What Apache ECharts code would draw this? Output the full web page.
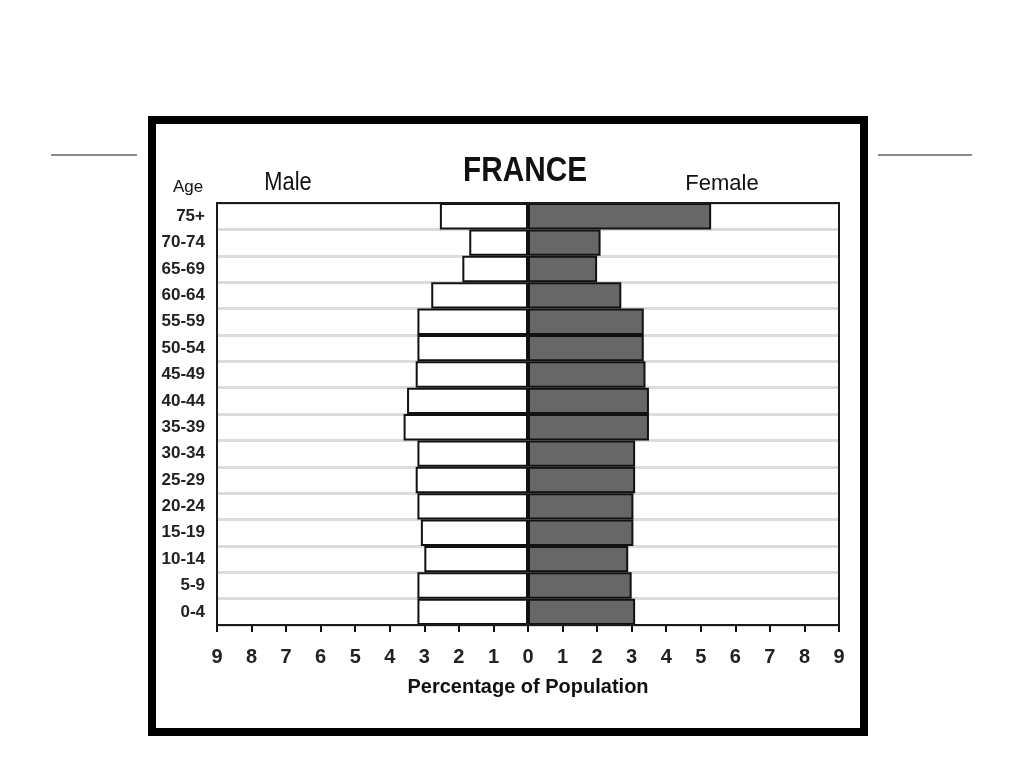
<!DOCTYPE html>
<html>
<head>
<meta charset="utf-8">
<script src="https://cdn.jsdelivr.net/npm/echarts@6/dist/echarts.min.js"></script>
<style>html,body{margin:0;padding:0;background:#fff;}#chart{width:1024px;height:768px;}</style>
</head>
<body>
<div id="chart"></div>
<script>
// Age groups, top to bottom
var ageGroups = ['75+','70-74','65-69','60-64','55-59','50-54','45-49','40-44','35-39','30-34','25-29','20-24','15-19','10-14','5-9','0-4'];
// Percentage of population
var maleValues   = [2.55, 1.7, 1.9, 2.8, 3.2, 3.2, 3.25, 3.5, 3.6, 3.2, 3.25, 3.2, 3.1, 3.0, 3.2, 3.2];
var femaleValues = [5.3, 2.1, 2.0, 2.7, 3.35, 3.35, 3.4, 3.5, 3.5, 3.1, 3.1, 3.05, 3.05, 2.9, 3.0, 3.1];

var SANS = "'Liberation Sans',Arial,sans-serif";

var chart = echarts.init(document.getElementById('chart'), null, {renderer:'canvas'});
chart.setOption({
  animation: false,
  backgroundColor: '#fff',
  grid: {left: 217, right: 185, top: 203, bottom: 143, show: true, borderColor: '#222', borderWidth: 2, backgroundColor: '#fff'},
  xAxis: {
    type: 'value', min: -9, max: 9, interval: 1,
    axisLine: {show: true, onZero: false, lineStyle: {color: '#111', width: 2}},
    axisTick: {show: true, length: 7, lineStyle: {color: '#111', width: 2}},
    splitLine: {show: false},
    axisLabel: {margin: 22, color: '#222', fontFamily: SANS, fontWeight: 'bold', fontSize: 20,
      formatter: function (v) { return String(Math.abs(v)); }},
    name: 'Percentage of Population', nameLocation: 'middle', nameGap: 52,
    nameTextStyle: {color: '#111', fontFamily: SANS, fontWeight: 'bold', fontSize: 20}
  },
  yAxis: {
    type: 'category', data: ageGroups, inverse: true,
    axisLine: {show: false}, axisTick: {show: false},
    splitLine: {show: true, interval: 0, lineStyle: {color: '#dcdcdc', width: 3}},
    axisLabel: {margin: 12, color: '#222', fontFamily: SANS, fontWeight: 'bold', fontSize: 17}
  },
  series: [
    {name: 'Male', type: 'bar', stack: 'pop', barWidth: '100%',
     data: maleValues.map(function (v) { return -v; }),
     itemStyle: {color: '#fff', borderColor: '#111', borderWidth: 2}},
    {name: 'Female', type: 'bar', stack: 'pop', barWidth: '100%',
     data: femaleValues,
     itemStyle: {color: '#676767', borderColor: '#111', borderWidth: 2}}
  ],
  graphic: [
    {type: 'rect', z: 100, shape: {x: 217, y: 203, width: 622, height: 422}, style: {fill: 'none', stroke: '#1a1a1a', lineWidth: 2}},
    {type: 'rect', shape: {x: 152, y: 120, width: 712, height: 612}, style: {fill: 'none', stroke: '#000', lineWidth: 8}},
    {type: 'line', shape: {x1: 51, y1: 155, x2: 137, y2: 155}, style: {stroke: '#8a8a8a', lineWidth: 2}},
    {type: 'line', shape: {x1: 878, y1: 155, x2: 972, y2: 155}, style: {stroke: '#8a8a8a', lineWidth: 2}},
    {type: 'text', x: 525, y: 171, scaleX: 0.85, style: {text: 'FRANCE', fill: '#111', font: 'bold 35px ' + SANS, textAlign: 'center', textVerticalAlign: 'middle'}},
    {type: 'text', x: 288, y: 183, scaleX: 0.84, style: {text: 'Male', fill: '#111', font: 'normal 26px ' + SANS, textAlign: 'center', textVerticalAlign: 'middle'}},
    {type: 'text', x: 722, y: 184, style: {text: 'Female', fill: '#111', font: 'normal 22px ' + SANS, textAlign: 'center', textVerticalAlign: 'middle'}},
    {type: 'text', x: 188, y: 187, style: {text: 'Age', fill: '#111', font: 'normal 17px ' + SANS, textAlign: 'center', textVerticalAlign: 'middle'}}
  ]
});
</script>
</body>
</html>
